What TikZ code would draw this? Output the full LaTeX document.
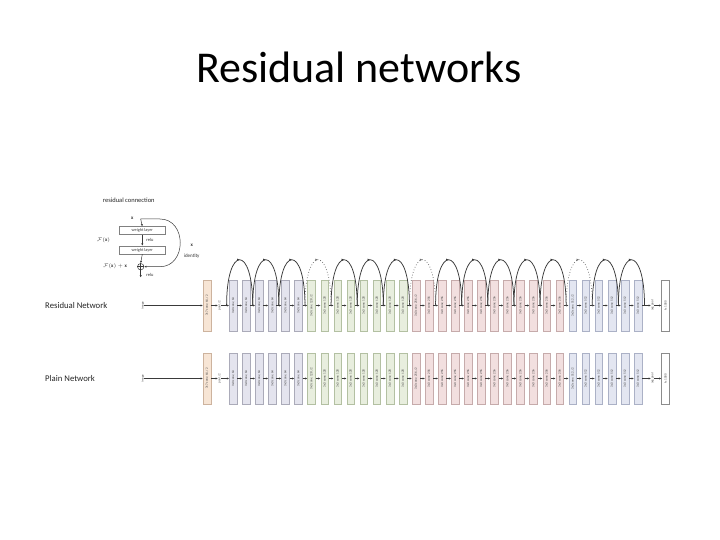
\documentclass[tikz,border=0pt]{standalone}
\usepackage{fontspec}
\setmainfont{Carlito}
\usetikzlibrary{arrows.meta,calc,decorations.markings}
\definecolor{c7f}{HTML}{F7E5D5}\definecolor{c7d}{HTML}{CDB39E}
\definecolor{c64f}{HTML}{E4E4EE}\definecolor{c64d}{HTML}{ABABB9}
\definecolor{c128f}{HTML}{E8EEDE}\definecolor{c128d}{HTML}{B3C0A2}
\definecolor{c256f}{HTML}{F2DFDF}\definecolor{c256d}{HTML}{C6ABAB}
\definecolor{c512f}{HTML}{E3E6F1}\definecolor{c512d}{HTML}{ABB1C6}
\definecolor{lnc}{HTML}{3A3A3A}
\tikzset{
  lay/.style={draw=#1, line width=0.5pt, minimum width=7.7pt, minimum height=51pt, inner sep=0pt,
    font=\fontsize{3.2}{3.6}\selectfont, text=black!75},
  b7/.style={lay=c7d, fill=c7f},
  b64/.style={lay=c64d, fill=c64f},
  b128/.style={lay=c128d, fill=c128f},
  b256/.style={lay=c256d, fill=c256f},
  b512/.style={lay=c512d, fill=c512f},
  bfc/.style={lay=black!45, fill=white},
  tinytxt/.style={inner sep=0pt, font=\fontsize{3.2}{3.6}\selectfont, text=black!70},
  arr/.style={draw=lnc, line width=0.5pt, -{Latex[length=2.3pt,width=2.1pt]}},
  skiparc/.style={draw=lnc, line width=0.75pt, postaction={decorate},
    decoration={markings, mark=at position 0.5 with {\arrow{Latex[length=2.6pt,width=2.4pt]}}}},
  skipdot/.style={draw=black!55, line width=0.75pt, dotted, postaction={decorate},
    decoration={markings, mark=at position 0.5 with {\arrow[solid]{Latex[length=2.6pt,width=2.4pt]}}}},
  wl/.style={draw=black!50, line width=0.5pt, fill=white, minimum width=46.7pt, minimum height=7.8pt,
    inner sep=0pt, font=\fontsize{4.3}{5}\selectfont, text=black!75},
  small/.style={inner sep=0pt, font=\fontsize{5}{6}\selectfont, text=black!80},
}
\newcommand\mkrow[2]{%
  \node[tinytxt] (#1img) at (142.7,#2) {\rotatebox{90}{image}};
  \node[b7] (#1in) at (207,#2) {\rotatebox{90}{7x7 conv, 64, /2}};
  \node[tinytxt] (#1pool) at (219.5,#2) {\rotatebox{90}{pool, /2}};
  \foreach \k in {0,...,5} {\node[b64] (#1n\k) at ({233.2+13.06*\k},#2) {\rotatebox{90}{3x3 conv, 64}};}
  \node[b128] (#1n6) at ({233.2+13.06*6},#2) {\rotatebox{90}{3x3 conv, 128, /2}};
  \foreach \k in {7,...,13} {\node[b128] (#1n\k) at ({233.2+13.06*\k},#2) {\rotatebox{90}{3x3 conv, 128}};}
  \node[b256] (#1n14) at ({233.2+13.06*14},#2) {\rotatebox{90}{3x3 conv, 256, /2}};
  \foreach \k in {15,...,25} {\node[b256] (#1n\k) at ({233.2+13.06*\k},#2) {\rotatebox{90}{3x3 conv, 256}};}
  \node[b512] (#1n26) at ({233.2+13.06*26},#2) {\rotatebox{90}{3x3 conv, 512, /2}};
  \foreach \k in {27,...,31} {\node[b512] (#1n\k) at ({233.2+13.06*\k},#2) {\rotatebox{90}{3x3 conv, 512}};}
  \node[tinytxt] (#1avg) at (652.5,#2) {\rotatebox{90}{avg pool}};
  \node[bfc] (#1fc) at (665.5,#2) {\rotatebox{90}{fc 1000}};
  \draw[arr] (#1img.east) -- (#1in.west);
  \draw[arr] (#1in.east) -- (#1pool.west);
  \draw[arr] (#1pool.east) -- (#1n0.west);
  \foreach \k [remember=\k as \prev (initially 0)] in {1,...,31} {\draw[arr] (#1n\prev.east) -- (#1n\k.west);}
  \draw[arr] (#1n31.east) -- (#1avg.west);
  \draw[arr] (#1avg.east) -- (#1fc.west);
}
\begin{document}
\begin{tikzpicture}[x=1pt,y=-1pt]
\useasboundingbox[fill=white] (0,0) rectangle (720,540);
% title
\node[anchor=base, inner sep=0pt, font=\fontsize{44}{52}\selectfont] (title) at (359,82.7) {Residual networks};
% inset: residual connection
\node[anchor=west, inner sep=0pt, font=\fontsize{6.5}{7.5}\selectfont, text=black!85] (rc) at (102.7,200.5) {residual connection};
\node[small] (ix) at (132.3,218.5) {$\mathbf{x}$};
\coordinate (itop) at (140.7,219);
\node[wl] (w1) at (142.3,230.6) {weight layer};
\node[wl] (w2) at (142.3,249.9) {weight layer};
\node[small, font=\fontsize{4.5}{5}\selectfont] (relu1) at (150,240.3) {relu};
\node[small] (fx) at (103.5,240) {$\mathcal{F}(\mathbf{x})$};
\node[draw=lnc, line width=0.5pt, circle, inner sep=0pt, minimum size=6.4pt] (plus) at (140.7,266.7) {};
\draw[lnc, line width=0.45pt] (plus.north) -- (plus.south) (plus.west) -- (plus.east);
\node[small] (fxx) at (115,266.7) {$\mathcal{F}(\mathbf{x})+\mathbf{x}$};
\coordinate (iout) at (140.7,277.5);
\node[small, font=\fontsize{4.5}{5}\selectfont] (relu2) at (150,274.5) {relu};
\node[small] (idx) at (191.7,245.7) {$\mathbf{x}$};
\node[small] (idt) at (191.7,256) {identity};
\draw[arr] (itop) -- (w1.north);
\draw[arr] (w1.south) -- (w2.north);
\draw[arr] (w2.south) -- (plus.north);
\draw[arr] (plus.south) -- (iout);
\draw[arr] (itop) -- (160,219) .. controls (187,219) and (187,266.7) .. (160,266.7) -- (plus.east);
% row labels
\node[anchor=west, inner sep=0pt, font=\fontsize{8.7}{10}\selectfont, text=black!85] (lres) at (45,305.5) {Residual Network};
\node[anchor=west, inner sep=0pt, font=\fontsize{8.7}{10}\selectfont, text=black!85] (lpl) at (45,379) {Plain Network};
% rows
\mkrow{r}{305.5}
\mkrow{p}{378.5}
% skip arcs on the residual row
\foreach \k in {0,...,16} {\coordinate (g\k) at ({226.6+26.12*\k},305.5);}
\foreach \j [evaluate=\j as \jj using int(\j+1)] in {0,1,2,4,5,6,8,9,10,11,12,14,15}
  {\draw[skiparc] (g\j) .. controls ($(g\j)+(0,-61)$) and ($(g\jj)+(0,-61)$) .. (g\jj);}
\foreach \j [evaluate=\j as \jj using int(\j+1)] in {3,7,13}
  {\draw[skipdot] (g\j) .. controls ($(g\j)+(0,-61)$) and ($(g\jj)+(0,-61)$) .. (g\jj);}
\end{tikzpicture}
\end{document}
